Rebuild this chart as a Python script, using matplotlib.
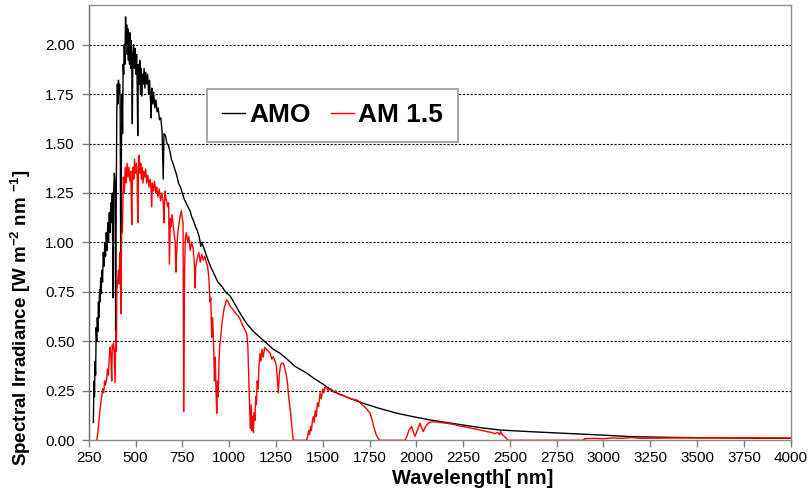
import matplotlib
matplotlib.use("Agg")
import matplotlib.pyplot as plt
from matplotlib.lines import Line2D

plt.rcParams['font.family'] = ['Liberation Sans', 'DejaVu Sans']
plt.rcParams['mathtext.fontset'] = 'custom'
plt.rcParams['mathtext.rm'] = 'Liberation Sans'
plt.rcParams['mathtext.bf'] = 'Liberation Sans:bold'

# ---------------- data ----------------
am0_wl = [275, 278, 281, 284, 287, 290, 293, 296, 299, 302, 305, 308, 311, 314, 317, 320,
          324, 328, 332, 336, 340, 344, 348, 352, 356, 360, 364, 368, 372, 376, 380, 383,
          387, 391, 394, 397, 400, 403, 406, 409, 412, 415, 418, 421, 424, 428, 431, 434,
          437, 440, 443, 447, 450, 453, 456, 459, 462, 465, 468, 471, 474, 477, 480, 483,
          486, 490, 494, 498, 502, 506, 509, 512, 515, 519, 523, 527, 530, 533, 537, 541,
          546, 550, 555, 560, 565, 570, 575, 580, 583, 587, 592, 597, 603, 609, 615, 621,
          628, 635, 642, 648, 652, 660, 668, 676, 684, 692, 700, 710, 720, 730, 740, 750,
          760, 770, 780, 791, 800, 810, 820, 830, 840, 849, 854, 866, 880, 900, 920, 940,
          960, 980, 1005, 1030, 1060, 1094, 1130, 1165, 1201, 1236, 1272, 1310, 1350, 1414,
          1450, 1500, 1557, 1600, 1650, 1717, 1800, 1895, 1990, 2073, 2160, 2250, 2350, 2447,
          2600, 2803, 3000, 3159, 3350, 3515, 3750, 3996]
am0_val = [0.09, 0.30, 0.22, 0.40, 0.33, 0.57, 0.50, 0.62, 0.55, 0.70, 0.62, 0.76, 0.70, 0.82, 0.74, 0.86,
           0.80, 0.95, 0.88, 1.00, 0.93, 1.05, 0.96, 1.10, 1.00, 1.15, 1.05, 1.20, 1.10, 1.25, 0.72, 1.25,
           1.35, 1.30, 0.55, 1.20, 1.65, 1.80, 1.70, 1.82, 1.75, 1.80, 1.72, 0.90, 1.40, 1.75, 1.55, 1.90,
           1.85, 2.00, 1.90, 2.14, 2.00, 2.10, 1.95, 2.08, 1.92, 2.05, 1.90, 2.06, 1.88, 2.02, 1.90, 1.60,
           1.95, 2.00, 1.88, 1.98, 1.85, 1.95, 1.80, 1.54, 1.90, 1.80, 1.92, 1.75, 1.88, 1.74, 1.85, 1.80,
           1.88, 1.78, 1.86, 1.80, 1.85, 1.75, 1.82, 1.72, 1.63, 1.78, 1.70, 1.76, 1.68, 1.72, 1.66, 1.68,
           1.62, 1.63, 1.56, 1.32, 1.55, 1.54, 1.50, 1.49, 1.46, 1.42, 1.40, 1.37, 1.34, 1.30, 1.28, 1.25,
           1.22, 1.20, 1.18, 1.16, 1.13, 1.11, 1.08, 1.06, 1.03, 0.98, 1.00, 0.97, 0.93, 0.88, 0.84, 0.80,
           0.78, 0.75, 0.73, 0.69, 0.64, 0.59, 0.55, 0.52, 0.49, 0.46, 0.44, 0.41, 0.375, 0.34,
           0.315, 0.285, 0.246, 0.23, 0.21, 0.187, 0.162, 0.137, 0.118, 0.103, 0.09, 0.077, 0.063, 0.052,
           0.044, 0.035, 0.026, 0.018, 0.015, 0.013, 0.011, 0.010]

am15_wl = [293, 300, 305, 310, 315, 319, 325, 330, 335, 340, 346, 350, 355, 360, 364, 368,
           373, 376, 380, 382, 386, 391, 395, 398, 400, 405, 409, 412, 416, 419, 422, 426,
           430, 435, 440, 445, 450, 455, 460, 465, 470, 475, 480, 483, 487, 491, 495, 500,
           505, 509, 512, 516, 520, 524, 528, 532, 536, 540, 545, 550, 555, 560, 566, 572,
           578, 583, 586, 590, 596, 602, 608, 614, 620, 627, 634, 641, 648, 652, 657, 663,
           668, 672, 677, 681, 686, 690, 695, 700, 706, 712, 716, 720, 725, 730, 738, 745,
           750, 754, 757, 762, 766, 772, 778, 785, 792, 800, 808, 814, 818, 822, 830, 838,
           846, 854, 862, 870, 878, 885, 892, 898, 902, 907, 912, 918, 922, 926, 930, 934,
           938, 942, 946, 950, 955, 960, 966, 972, 980, 987, 995, 1004, 1012, 1022, 1035, 1048,
           1060, 1072, 1084, 1094, 1100, 1105, 1110, 1114, 1118, 1122, 1126, 1130, 1134, 1138, 1142, 1146,
           1150, 1155, 1160, 1165, 1170, 1176, 1182, 1190, 1201, 1210, 1220, 1228, 1236, 1245, 1252, 1258,
           1263, 1268, 1275, 1282, 1290, 1298, 1306, 1312, 1318, 1325, 1332, 1338, 1343, 1414, 1420, 1425,
           1430, 1436, 1440, 1445, 1450, 1455, 1460, 1466, 1472, 1478, 1486, 1492, 1500, 1506, 1512, 1520,
           1530, 1540, 1550, 1560, 1570, 1580, 1592, 1605, 1618, 1630, 1645, 1660, 1672, 1682, 1695, 1710,
           1725, 1740, 1753, 1765, 1775, 1785, 1795, 1806, 1940, 1950, 1960, 1975, 1985, 1993, 2005, 2020,
           2030, 2037, 2050, 2064, 2078, 2091, 2110, 2130, 2162, 2200, 2240, 2269, 2300, 2340, 2376, 2400,
           2420, 2435, 2445, 2450, 2458, 2470, 2480, 2491, 2890, 2900, 2950, 3000, 3050, 3100, 3150, 3200,
           3300, 3400, 3500, 3600, 3700, 3800, 3900, 4000]
am15_val = [0.0, 0.05, 0.10, 0.15, 0.19, 0.22, 0.26, 0.24, 0.30, 0.28, 0.31, 0.36, 0.33, 0.42, 0.47, 0.44,
            0.30, 0.48, 0.46, 0.49, 0.45, 0.29, 0.55, 0.45, 0.76, 0.80, 0.86, 0.79, 0.95, 0.88, 0.64, 1.05,
            1.05, 1.33, 1.25, 1.38, 1.30, 1.40, 1.33, 1.38, 1.31, 1.36, 1.09, 1.30, 1.38, 1.32, 1.42, 1.35,
            1.40, 1.33, 1.10, 1.38, 1.44, 1.35, 1.40, 1.32, 1.38, 1.30, 1.36, 1.33, 1.37, 1.30, 1.34, 1.28,
            1.32, 1.27, 1.18, 1.30, 1.26, 1.31, 1.25, 1.28, 1.23, 1.27, 1.21, 1.25, 1.20, 1.10, 1.26, 1.22,
            1.20, 1.18, 1.20, 0.89, 1.12, 1.08, 1.14, 1.10, 1.05, 1.00, 0.85, 0.95, 1.04, 1.08, 1.13, 1.16,
            1.12, 1.10, 0.145, 0.85, 1.02, 1.05, 1.00, 1.03, 0.96, 1.00, 0.97, 0.90, 0.77, 0.88, 0.92, 0.95,
            0.90, 0.94, 0.91, 0.93, 0.90, 0.88, 0.82, 0.70, 0.72, 0.52, 0.62, 0.45, 0.30, 0.42, 0.25, 0.137,
            0.30, 0.22, 0.40, 0.48, 0.52, 0.575, 0.62, 0.66, 0.69, 0.71, 0.70, 0.68, 0.67, 0.66, 0.64, 0.63,
            0.61, 0.58, 0.56, 0.54, 0.48, 0.32, 0.15, 0.06, 0.18, 0.05, 0.12, 0.04, 0.14, 0.10, 0.22, 0.18,
            0.30, 0.26, 0.38, 0.44, 0.40, 0.46, 0.42, 0.47, 0.457, 0.45, 0.44, 0.41, 0.423, 0.40, 0.38, 0.30,
            0.24, 0.33, 0.38, 0.39, 0.39, 0.36, 0.33, 0.29, 0.22, 0.17, 0.10, 0.04, 0.0, 0.0, 0.02, 0.05,
            0.03, 0.07, 0.05, 0.10, 0.12, 0.09, 0.15, 0.12, 0.19, 0.17, 0.24, 0.21, 0.26, 0.24, 0.27, 0.265,
            0.25, 0.262, 0.255, 0.245, 0.25, 0.235, 0.23, 0.228, 0.222, 0.218, 0.212, 0.208, 0.204, 0.204, 0.195, 0.18,
            0.168, 0.152, 0.137, 0.10, 0.06, 0.03, 0.012, 0.0, 0.0, 0.02, 0.05, 0.07, 0.04, 0.02, 0.05, 0.086,
            0.06, 0.044, 0.07, 0.086, 0.092, 0.094, 0.092, 0.09, 0.086, 0.08, 0.071, 0.066, 0.06, 0.052, 0.044, 0.04,
            0.034, 0.04, 0.028, 0.045, 0.03, 0.02, 0.01, 0.0, 0.0, 0.008, 0.01, 0.008, 0.012, 0.01, 0.014, 0.01,
            0.011, 0.012, 0.012, 0.013, 0.012, 0.013, 0.012, 0.012]

x_ticks = [250, 500, 750, 1000, 1250, 1500, 1750, 2000, 2250, 2500, 2750, 3000, 3250, 3500, 3750, 4000]
y_ticks = [0.00, 0.25, 0.50, 0.75, 1.00, 1.25, 1.50, 1.75, 2.00]
series_labels = ["AMO", "AM 1.5"]

# ---------------- figure ----------------
fig = plt.figure(figsize=(8.09, 4.93), dpi=100)
W, H = 809, 493
x0, x1, y0, y1 = 88.7, 790.7, 5.0, 440.3
ax = fig.add_axes([x0 / W, 1 - y1 / H, (x1 - x0) / W, (y1 - y0) / H])

ax.plot(am0_wl, am0_val, color='black', lw=1.0, label=series_labels[0], zorder=3)
ax.plot(am15_wl, am15_val, color='#ff0000', lw=1.0, label=series_labels[1], zorder=4)

ax.set_xlim(250, 4000)
ax.set_ylim(0, 2.2)
ax.set_xticks(x_ticks)
ax.set_xticklabels([str(t) for t in x_ticks])
ax.set_yticks(y_ticks)
ax.set_yticklabels([f"{t:.2f}" for t in y_ticks])
ax.tick_params(axis='both', direction='out', length=5, width=1, color='#808080',
               labelsize=11, labelcolor='black')
ax.tick_params(axis='y', pad=5)
ax.tick_params(axis='x', pad=3)

for t in y_ticks[1:]:
    ax.axhline(t, color='black', lw=0.8, ls=(0, (2.0, 1.5)), zorder=1)

for s in ax.spines.values():
    s.set_color('#8c8c8c')
    s.set_linewidth(1.0)
ax.spines['left'].set_color('#666666')

fig.text(21 / W, 1 - 317.5 / H, r'Spectral Irradiance [W m$^{\mathbf{-2}}$ nm $^{\mathbf{-1}}$]',
         rotation=90, ha='center', va='center', fontsize=13.5, fontweight='bold')
fig.text(472.5 / W, 1 - 479 / H, 'Wavelength[ nm]', ha='center', va='center',
         fontsize=14.5, fontweight='bold')

handles = [Line2D([], [], color='black', lw=1.0), Line2D([], [], color='#ff0000', lw=1.0)]
leg = ax.legend(handles, series_labels, loc='center',
                bbox_to_anchor=((332.3 - x0) / (x1 - x0), (y1 - 115.5) / (y1 - y0)),
                ncol=2, prop={'weight': 'bold', 'size': 19}, frameon=True, fancybox=False,
                shadow=False, handlelength=0.9, handletextpad=0.15, columnspacing=0.75,
                borderpad=0.55, borderaxespad=0)
leg.get_frame().set_edgecolor('#999999')
leg.get_frame().set_linewidth(1.2)
leg.get_frame().set_facecolor('white')
leg.get_frame().set_alpha(1)
leg.set_zorder(10)

fig.savefig('out.png', dpi=100)
